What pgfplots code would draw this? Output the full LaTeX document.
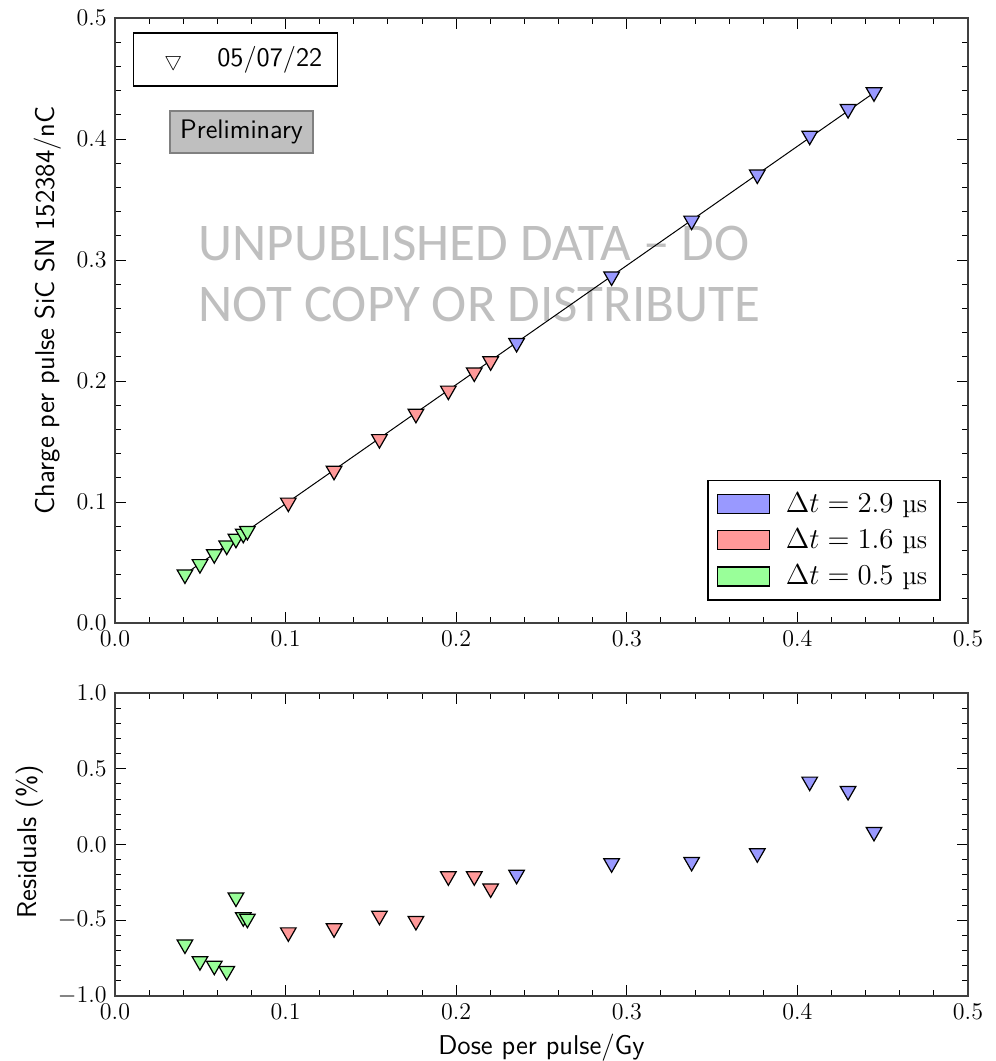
\documentclass[border=0pt,12pt]{standalone}
\usepackage{fontspec}
\newfontfamily\wmfont{Carlito}
\usepackage{pgfplots}
\usepackage{pgfplotstable}
\pgfplotsset{compat=1.18}

\definecolor{cblue}{RGB}{153,153,255}
\definecolor{cred}{RGB}{255,153,153}
\definecolor{cgreen}{RGB}{153,255,153}

\newcommand{\lblfont}{\sffamily\fontsize{13.6}{16}\selectfont}
\newcommand{\boxfont}{\fontsize{13.4}{16}\selectfont}

\pgfplotstableread{
x y r
0.0410 0.04012 -0.66
0.0498 0.04868 -0.77
0.0582 0.05687 -0.80
0.0655 0.06398 -0.835
0.0709 0.06959 -0.35
0.0752 0.07372 -0.48
0.0776 0.07606 -0.49
}\greendata

\pgfplotstableread{
x y r
0.1016 0.09950 -0.58
0.1284 0.12577 -0.553
0.1550 0.15196 -0.47
0.1764 0.17288 -0.505
0.1954 0.19206 -0.21
0.2106 0.20701 -0.21
0.2202 0.21627 -0.29
}\reddata

\pgfplotstableread{
x y r
0.2354 0.23141 -0.20
0.2911 0.28638 -0.124
0.3380 0.33255 -0.115
0.3765 0.37064 -0.058
0.4072 0.40276 0.415
0.4297 0.42475 0.353
0.4449 0.43859 0.083
}\bluedata

\pgfplotsset{
  myax/.style={
    scale only axis, width=426.5pt,
    xmin=0, xmax=0.5,
    xtick={0,0.1,0.2,0.3,0.4,0.5},
    minor x tick num=4,
    tick align=inside, tick pos=both,
    major tick length=5.5pt, minor tick length=3pt,
    every tick/.style={black, line width=0.5pt},
    axis line style={black!75, line width=0.6pt},
    xticklabel style={/pgf/number format/.cd, fixed, fixed zerofill, precision=1},
    yticklabel style={/pgf/number format/.cd, fixed, fixed zerofill, precision=1},
    label style={font=\lblfont},
  },
  mk/.style={only marks, mark=triangle*, mark size=4.5pt,
    mark options={rotate=180, fill=#1, draw=black, line width=0.6pt}, forget plot},
}

\begin{document}
\begin{tikzpicture}
\useasboundingbox (-57.5pt,9pt) rectangle (440.5pt,-521.5pt);
\begin{axis}[myax,
  name=top, at={(0,0)}, anchor=north west,
  height=302.5pt,
  ymin=0, ymax=0.5,
  ytick={0,0.1,0.2,0.3,0.4,0.5},
  minor y tick num=4,
  ylabel={Charge per pulse SiC SN 152384/nC},
  ylabel style={at={(axis description cs:-0.0785,0.517)}, anchor=center},
  legend style={at={(0.9684,0.0364)}, anchor=south east, draw=black, line width=0.8pt,
    inner xsep=4.5pt, inner ysep=4pt, row sep=2.5pt, font=\boxfont,
    /tikz/every odd column/.append style={column sep=6pt}},
  legend cell align=left,
  legend image code/.code={\draw[#1, draw=black, line width=0.6pt] (0pt,-4.75pt) rectangle (26pt,4.75pt);},
]
\node[anchor=base west, inner sep=0pt, text=black!25, font=\wmfont\fontsize{26.5}{30}\selectfont] at (axis cs:0.0487,0.3000) {UNPUBLISHED DATA – DO};
\node[anchor=base west, inner sep=0pt, text=black!25, font=\wmfont\fontsize{26.5}{30}\selectfont] at (axis cs:0.0487,0.2488) {NOT COPY OR DISTRIBUTE};

\addplot[mk=cblue] table[x=x, y=y] {\bluedata};
\addplot[mk=cred] table[x=x, y=y] {\reddata};
\addplot[mk=cgreen] table[x=x, y=y] {\greendata};
\addplot[black, line width=0.5pt, forget plot] coordinates {(0.040,0.0394) (0.4455,0.4388)};

\addlegendimage{fill=cblue}
\addlegendentry{$\Delta t = 2.9$ µs}
\addlegendimage{fill=cred}
\addlegendentry{$\Delta t = 1.6$ µs}
\addlegendimage{fill=cgreen}
\addlegendentry{$\Delta t = 0.5$ µs}

\node[draw=black, line width=0.8pt, fill=white, anchor=west, minimum height=26.5pt, inner sep=0pt, font=\sffamily\boxfont]
  at (axis cs:0.01037,0.4657) {\makebox[102pt][l]{\hspace{15.5pt}{\fontsize{10}{10}\selectfont$\bigtriangledown$}\hspace{17.5pt}05/07/22}};
\node[draw=black!50, fill=black!25, line width=1pt, font=\sffamily\boxfont, minimum width=71.3pt, minimum height=21.2pt, inner sep=0pt]
  at (axis cs:0.0742,0.4058) {Preliminary};
\end{axis}

\begin{axis}[myax,
  name=bot, at={(0,-337.5pt)}, anchor=north west,
  height=151.5pt,
  ymin=-1, ymax=1,
  ytick={-1,-0.5,0,0.5,1},
  minor y tick num=4,
  ylabel={Residuals (\%)},
  ylabel style={at={(axis description cs:-0.0997,0.508)}, anchor=center},
  xlabel={Dose per pulse/Gy},
  xlabel style={at={(axis description cs:0.5,0)}, yshift=-26pt, anchor=center},
]
\addplot[mk=cblue] table[x=x, y=r] {\bluedata};
\addplot[mk=cred] table[x=x, y=r] {\reddata};
\addplot[mk=cgreen] table[x=x, y=r] {\greendata};
\end{axis}
\end{tikzpicture}
\end{document}
